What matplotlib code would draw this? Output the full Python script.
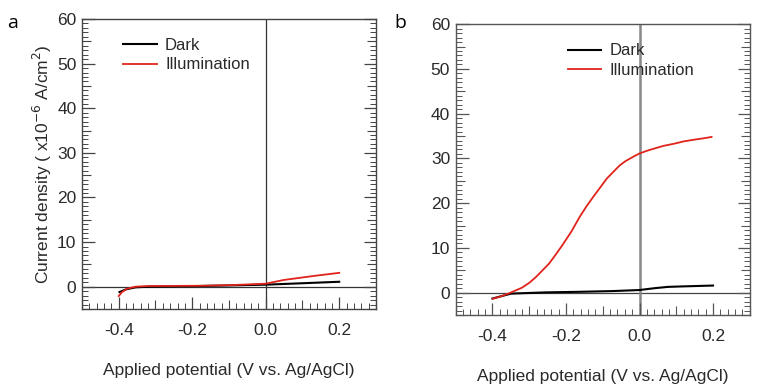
import numpy as np
import matplotlib
matplotlib.use("Agg")
import matplotlib.pyplot as plt
from matplotlib.ticker import MultipleLocator, FixedLocator, NullFormatter

plt.rcParams['font.family'] = ['Liberation Sans', 'DejaVu Sans']

# ---------------------------------------------------------------------------
# Data (potential in V vs Ag/AgCl, current in 1e-6 A/cm2)
# ---------------------------------------------------------------------------
# panel a
a_dark_v = [-0.398, -0.38, -0.354, -0.318, -0.18, -0.089, 0.0, 0.094, 0.2]
a_dark_j = [-1.2, -0.6, -0.15, 0.0, 0.15, 0.3, 0.45, 0.75, 1.1]
a_light_v = [-0.40, -0.391, -0.377, -0.354, -0.318, -0.18, -0.089, 0.0, 0.049, 0.094, 0.14, 0.2]
a_light_j = [-2.1, -1.2, -0.45, 0.0, 0.15, 0.2, 0.37, 0.67, 1.5, 2.0, 2.5, 3.1]

# panel b
b_dark_v = [-0.40, -0.349, -0.256, -0.164, -0.071, 0.0, 0.04, 0.077, 0.114, 0.2]
b_dark_j = [-1.3, -0.2, 0.07, 0.2, 0.37, 0.6, 1.0, 1.3, 1.4, 1.6]
b_light_v = [-0.399, -0.378, -0.357, -0.34, -0.32, -0.30, -0.283, -0.265, -0.246,
             -0.228, -0.21, -0.185, -0.163, -0.145,
             -0.126, -0.107, -0.089, -0.07, -0.053, -0.038, -0.025, -0.012, 0.0,
             0.02, 0.04, 0.065, 0.095, 0.12, 0.15, 0.175, 0.196]
b_light_j = [-1.35, -0.85, -0.2, 0.4, 1.1, 2.2, 3.4, 4.9, 6.5,
             8.5, 10.6, 13.7, 16.9, 19.2,
             21.4, 23.5, 25.5, 27.1, 28.5, 29.4, 30.0, 30.6, 31.1,
             31.7, 32.2, 32.8, 33.3, 33.8, 34.2, 34.5, 34.8]

xlabel = 'Applied potential (V vs. Ag/AgCl)'
ylabel = r'Current density ( x10$^{-6}$ A/cm$^{2}$)'
txt = '#2a2a2a'
red = '#e0231b'


def style_axes(ax, spine_col):
    ax.set_xlim(-0.5, 0.3)
    ax.set_ylim(-5, 60)
    for s in ax.spines.values():
        s.set_color(spine_col)
        s.set_linewidth(1.0)
    ax.xaxis.set_major_locator(FixedLocator([-0.4, -0.2, 0.0, 0.2]))
    ax.xaxis.set_minor_locator(MultipleLocator(0.02))
    ax.set_xticklabels(['-0.4', '-0.2', '0.0', '0.2'])
    ax.yaxis.set_major_locator(MultipleLocator(10))
    ax.yaxis.set_minor_locator(MultipleLocator(1))
    ax.tick_params(axis='both', which='both', direction='in', colors=spine_col,
                   labelcolor=txt, labelsize=12.5)
    ax.tick_params(axis='x', which='both', top=False, bottom=True, pad=10)
    ax.tick_params(axis='y', which='both', left=True, right=True, pad=4)
    ax.tick_params(which='major', length=9, width=0.9)
    ax.tick_params(which='minor', length=4, width=0.7)
    # medium ticks at 0.1 V and 5 units
    sx = ax.secondary_xaxis('bottom')
    sx.set_xticks([-0.5, -0.3, -0.1, 0.1, 0.3])
    sx.xaxis.set_major_formatter(NullFormatter())
    sx.tick_params(direction='in', length=6.5, width=0.8, colors=spine_col)
    sx.spines['bottom'].set_visible(False)
    for side in ('left', 'right'):
        sy = ax.secondary_yaxis(side)
        sy.set_yticks(np.arange(-5, 60, 10))
        sy.yaxis.set_major_formatter(NullFormatter())
        sy.tick_params(direction='in', length=6.5, width=0.8, colors=spine_col)
        sy.spines[side].set_visible(False)


fig = plt.figure(figsize=(7.62, 3.89), dpi=100)
ax1 = fig.add_axes([0.1076, 0.2057, 0.3858, 0.7455])
ax2 = fig.add_axes([0.598, 0.190, 0.386, 0.748])

# panel a
ax1.axhline(0, color='#333333', lw=0.9, zorder=1)
ax1.axvline(0, color='#333333', lw=0.9, zorder=1)
ax1.plot(a_dark_v, a_dark_j, color='black', lw=1.5, label='Dark', zorder=3)
ax1.plot(a_light_v, a_light_j, color=red, lw=1.3, label='Illumination', zorder=4)
style_axes(ax1, '#444444')
ax1.set_xlabel(xlabel, fontsize=12.5, color=txt, labelpad=18)
ax1.set_ylabel(ylabel, fontsize=12.5, color=txt, labelpad=2)
ax1.legend(loc='upper left', bbox_to_anchor=(0.09, 0.985), frameon=False,
           fontsize=12, handlelength=2.0, handletextpad=0.5, labelspacing=0.25,
           labelcolor=txt)

# panel b
ax2.axhline(0, color='#444444', lw=0.9, zorder=1)
ax2.axvline(0, color='#888888', lw=1.8, zorder=1)
ax2.plot(b_dark_v, b_dark_j, color='black', lw=1.5, label='Dark', zorder=3)
ax2.plot(b_light_v, b_light_j, color=red, lw=1.3, label='Illumination', zorder=4)
style_axes(ax2, '#555555')
ax2.set_xlabel(xlabel, fontsize=12.5, color=txt, labelpad=18)
ax2.legend(loc='upper left', bbox_to_anchor=(0.33, 0.985), frameon=False,
           fontsize=12, handlelength=2.0, handletextpad=0.5, labelspacing=0.25,
           labelcolor=txt)

fig.text(0.010, 0.942, 'a', fontsize=14, color='black', family='Open Sans', va='center')
fig.text(0.518, 0.942, 'b', fontsize=14, color='black', family='Open Sans', va='center')

fig.savefig('out.png', dpi=100)
